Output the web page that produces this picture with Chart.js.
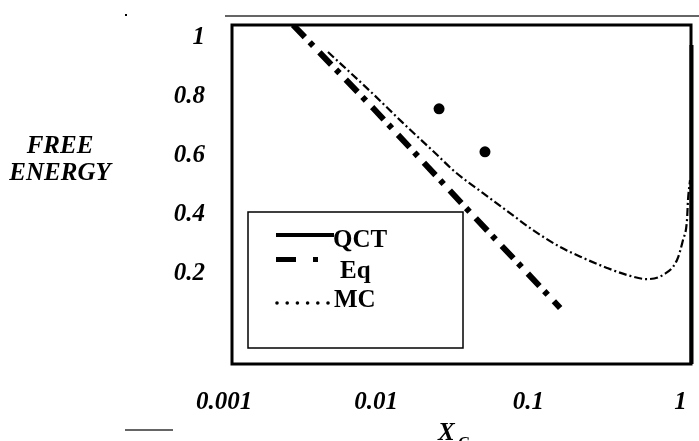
<!DOCTYPE html>
<html>
<head>
<meta charset="utf-8">
<title>Free energy vs X_C</title>
<script src="https://cdn.jsdelivr.net/npm/chart.js@4.4.1/dist/chart.umd.min.js"></script>
<style>
  html, body { margin: 0; padding: 0; background: #fff; }
  canvas { display: block; }
</style>
</head>
<body>
<canvas id="freeEnergyChart" width="699" height="441"></canvas>
<script>
// MC curve (X_c, free energy)
const mcX = [0.00482, 0.00939, 0.0148, 0.0244, 0.0330, 0.0504, 0.0758, 0.107, 0.162,
             0.229, 0.329, 0.446, 0.603, 0.768, 0.950, 1.040, 1.105, 1.122, 1.157];
const mcY = [0.952, 0.813, 0.714, 0.609, 0.545, 0.473, 0.405, 0.348, 0.290,
             0.253, 0.219, 0.195, 0.181, 0.195, 0.246, 0.314, 0.382, 0.450, 0.517];

// Eq line
const eqX = [0.00284, 0.00953, 0.0384, 0.162];
const eqY = [1.044, 0.762, 0.426, 0.083];

// QCT points
const qctX = [0.0259, 0.0519];
const qctY = [0.759, 0.613];

const seriesNames = ['QCT', 'Eq', 'MC'];

const xTickValues = [0.001, 0.01, 0.1, 1];
const xTickLabels = ['0.001', '0.01', '0.1', '1'];
const yTickValues = [1, 0.8, 0.6, 0.4, 0.2];
const yTickLabels = ['1', '0.8', '0.6', '0.4', '0.2'];

(function() {
    const canvas = document.getElementById('freeEnergyChart');
    if (typeof Chart === 'undefined') {
        console.error('Chart.js not loaded');
        return;
    }

    const SERIF = '"Liberation Serif", "Times New Roman", serif';
    const toPoints = (xs, ys) => xs.map((x, i) => ({ x: x, y: ys[i] }));

    // frame, tick labels, titles and the boxed legend
    const paperFrame = {
        id: 'paperFrame',
        afterDraw(chart) {
            const ctx = chart.ctx;
            const a = chart.chartArea;
            const xs = chart.scales.x;
            const ys = chart.scales.y;
            ctx.save();
            ctx.fillStyle = '#000';
            ctx.strokeStyle = '#000';

            // rules above and below
            ctx.lineWidth = 1.5;
            ctx.strokeStyle = '#333';
            ctx.beginPath();
            ctx.moveTo(225, 16); ctx.lineTo(699, 16);
            ctx.moveTo(125, 430); ctx.lineTo(173, 430);
            ctx.stroke();
            ctx.fillRect(125, 14, 2, 2);
            ctx.strokeStyle = '#000';

            // plot frame
            ctx.lineWidth = 3;
            ctx.strokeRect(a.left, a.top, a.right - a.left, a.bottom - a.top);
            ctx.lineWidth = 4;
            ctx.beginPath();
            ctx.moveTo(a.right + 0.5, a.top + 20);
            ctx.lineTo(a.right + 0.5, a.bottom);
            ctx.stroke();

            // tick labels
            ctx.font = 'italic bold 25px ' + SERIF;
            ctx.textAlign = 'right';
            ctx.textBaseline = 'middle';
            yTickValues.forEach((v, i) => ctx.fillText(yTickLabels[i], 205, ys.getPixelForValue(v)));
            ctx.textAlign = 'center';
            xTickValues.forEach((v, i) => ctx.fillText(xTickLabels[i], xs.getPixelForValue(v), 403));

            // axis titles
            ctx.fillText('FREE', 60, 147);
            ctx.fillText('ENERGY', 60, 174);
            ctx.textAlign = 'left';
            ctx.textBaseline = 'alphabetic';
            ctx.fillText('X', 438, 440);
            ctx.font = 'italic bold 16px ' + SERIF;
            ctx.fillText('C', 458, 448);

            // legend box
            ctx.lineWidth = 1.5;
            ctx.strokeRect(248, 212, 215, 136);
            ctx.font = 'bold 25px ' + SERIF;

            // QCT sample: solid bar
            ctx.fillRect(276, 233, 58, 4);
            ctx.fillText(seriesNames[0], 333, 247);

            // Eq sample: dash and dot
            ctx.fillRect(276, 257, 20, 5);
            ctx.fillRect(313, 257, 5, 5);
            ctx.fillText(seriesNames[1], 340, 278);

            // MC sample: row of dots
            for (let i = 0; i < 6; i++) {
                ctx.beginPath();
                ctx.arc(277 + i * 10.2, 303, 1.8, 0, Math.PI * 2);
                ctx.fill();
            }
            ctx.fillText(seriesNames[2], 334, 307);

            ctx.restore();
        }
    };

    new Chart(canvas, {
        type: 'scatter',
        data: {
            datasets: [
                {
                    label: seriesNames[0],
                    data: toPoints(qctX, qctY),
                    showLine: false,
                    pointRadius: 5.5,
                    pointBackgroundColor: '#000',
                    pointBorderWidth: 0
                },
                {
                    label: seriesNames[1],
                    data: toPoints(eqX, eqY),
                    showLine: true,
                    borderColor: '#000',
                    borderWidth: 6,
                    borderDash: [17, 7, 5, 9],
                    borderCapStyle: 'butt',
                    pointRadius: 0
                },
                {
                    label: seriesNames[2],
                    data: toPoints(mcX, mcY),
                    showLine: true,
                    borderColor: '#000',
                    borderWidth: 2.2,
                    borderDash: [8, 3, 2, 3],
                    cubicInterpolationMode: 'monotone',
                    pointRadius: 0
                }
            ]
        },
        options: {
            responsive: false,
            animation: false,
            devicePixelRatio: 1,
            layout: {
                padding: { left: 232, right: 8, top: 25, bottom: 77 }
            },
            scales: {
                x: { type: 'logarithmic', min: 0.001127, max: 1.174, display: false },
                y: { type: 'linear', min: -0.1073, max: 1.0438, display: false }
            },
            plugins: {
                legend: { display: false },
                tooltip: { enabled: false }
            }
        },
        plugins: [paperFrame]
    });
})();
</script>
</body>
</html>
